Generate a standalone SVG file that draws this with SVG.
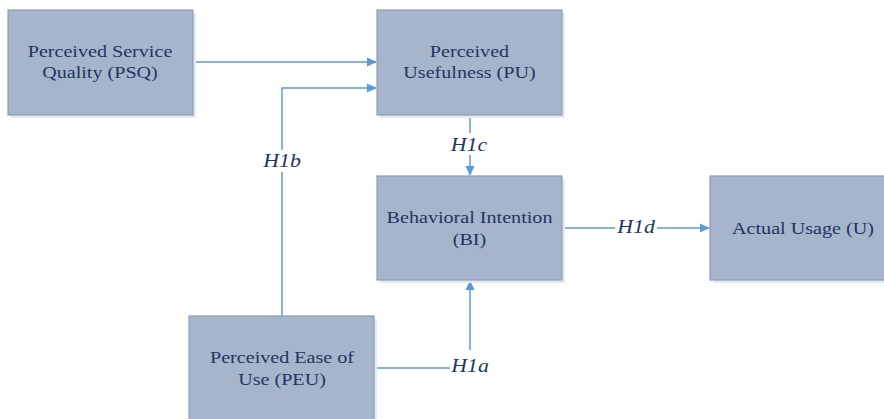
<svg xmlns="http://www.w3.org/2000/svg" width="884" height="419" viewBox="0 0 884 419">
<style>
.box{fill:#A6B5CC;stroke:#8D9DB6;stroke-width:1.2}
.shadow{fill:#E6E9EF}
.t{font-size:17.5px;fill:#1F3560;text-anchor:middle}
.lbl{font-size:19px;font-style:italic;fill:#1F3560;text-anchor:middle}
.ln{fill:none;stroke:#5B9BD5;stroke-width:1.5}
.bg{fill:#FFFFFF}
</style>
<defs>
<marker id="ah" markerWidth="10" markerHeight="10" refX="9" refY="5" orient="auto" markerUnits="userSpaceOnUse">
<path d="M0,0.5 L10,5 L0,9.5 Z" fill="#5B9BD5"/>
</marker>
</defs>
<rect width="884" height="419" fill="#FFFFFF"/>
<g id="connectors" font-family="Liberation Serif, Times New Roman, DejaVu Serif, serif">
<path class="ln" d="M193,62 H376" marker-end="url(#ah)"/>
<path class="ln" d="M282,316 V88 H376" marker-end="url(#ah)"/>
<path class="ln" d="M470,115 V175" marker-end="url(#ah)"/>
<path class="ln" d="M562,228 H709" marker-end="url(#ah)"/>
<path class="ln" d="M374,368 H470 V281" marker-end="url(#ah)"/>
<rect class="bg" x="260" y="150" width="44" height="22"/>
<text class="lbl" transform="translate(282 0) scale(1.15 1)" x="0" y="167">H1b</text>
<rect class="bg" x="450" y="133" width="40" height="22"/>
<text class="lbl" transform="translate(469 0) scale(1.15 1)" x="0" y="151">H1c</text>
<rect class="bg" x="615" y="216" width="42" height="22"/>
<text class="lbl" transform="translate(636 0) scale(1.15 1)" x="0" y="233">H1d</text>
<rect class="bg" x="450" y="350" width="42" height="28"/>
<text class="lbl" transform="translate(470 0) scale(1.15 1)" x="0" y="372">H1a</text>
</g>
<g id="psq" font-family="Liberation Serif, Times New Roman, DejaVu Serif, serif">
<rect class="shadow" x="11" y="13" width="185" height="105"/>
<rect class="box" x="8" y="10" width="185" height="105"/>
<text class="t" transform="translate(100 0) scale(1.15 1)"><tspan x="0" y="57">Perceived Service</tspan><tspan x="0" y="78">Quality (PSQ)</tspan></text>
</g>
<g id="pu" font-family="Liberation Serif, Times New Roman, DejaVu Serif, serif">
<rect class="shadow" x="380" y="13" width="185" height="105"/>
<rect class="box" x="377" y="10" width="185" height="105"/>
<text class="t" transform="translate(469.5 0) scale(1.15 1)"><tspan x="0" y="57">Perceived</tspan><tspan x="0" y="78">Usefulness (PU)</tspan></text>
</g>
<g id="bi" font-family="Liberation Serif, Times New Roman, DejaVu Serif, serif">
<rect class="shadow" x="380" y="179" width="185" height="104"/>
<rect class="box" x="377" y="176" width="185" height="104"/>
<text class="t" transform="translate(469.5 0) scale(1.15 1)"><tspan x="0" y="223">Behavioral Intention</tspan><tspan x="0" y="245">(BI)</tspan></text>
</g>
<g id="au" font-family="Liberation Serif, Times New Roman, DejaVu Serif, serif">
<rect class="shadow" x="713" y="179" width="185" height="104"/>
<rect class="box" x="710" y="176" width="185" height="104"/>
<text class="t" transform="translate(803 0) scale(1.15 1)"><tspan x="0" y="234">Actual Usage (U)</tspan></text>
</g>
<g id="peu" font-family="Liberation Serif, Times New Roman, DejaVu Serif, serif">
<rect class="shadow" x="192" y="319" width="185" height="105"/>
<rect class="box" x="189" y="316" width="185" height="105"/>
<text class="t" transform="translate(282 0) scale(1.15 1)"><tspan x="0" y="363">Perceived Ease of</tspan><tspan x="0" y="385">Use (PEU)</tspan></text>
</g>
</svg>
